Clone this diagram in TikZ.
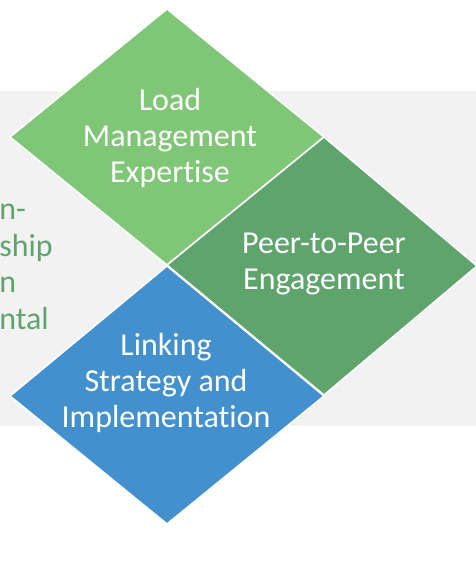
\documentclass[tikz,border=0pt]{standalone}
\usepackage{fontspec}
\setmainfont{Carlito}[Ligatures=NoCommon]
\definecolor{lightgreen}{RGB}{127,198,118}
\definecolor{darkgreen}{RGB}{94,164,108}
\definecolor{midblue}{RGB}{66,144,206}
\definecolor{bandgray}{RGB}{242,242,242}
\tikzset{
  tile/.style={draw=white,line width=0.9pt,line join=miter},
  tiletext/.style={text=white,align=center,font=\fontsize{18.2}{20.3}\selectfont},
  sidetext/.style={text=darkgreen,anchor=mid west,inner sep=0pt,font=\fontsize{18.2}{19.9}\selectfont}
}

\begin{document}
\begin{tikzpicture}[x=0.02cm,y=-0.02cm]
\useasboundingbox (0,0) rectangle (476,583);
\clip (0,0) rectangle (476,583);

%% background band
\fill [bandgray] (0,91) rectangle (476,426);

%% text behind, cut at the left edge
\node [sidetext] (side1) at (-1,215) {n-};
\node [sidetext] (side2) at (-1,252) {ship};
\node [sidetext] (side3) at (-1,288) {n};
\node [sidetext] (side4) at (-1,325) {ntal};

%% tiles
% top tile
\filldraw [tile,fill=lightgreen] (167,9) -- (324,137) -- (167,265) -- (10,137) -- cycle;
% right tile
\filldraw [tile,fill=darkgreen] (324,137) -- (477,266) -- (324,395) -- (167,265) -- cycle;
% bottom tile
\filldraw [tile,fill=midblue] (167,266) -- (324,396) -- (167,524) -- (10,396) -- cycle;

%% labels
\node [tiletext] (load) at (170,138) {Load\\Management\\Expertise};
\node [tiletext] (peer) at (324,264) {Peer-to-Peer\\Engagement};
\node [tiletext] (link) at (166,383) {Linking\\Strategy and\\Implementation};

\end{tikzpicture}
\end{document}
